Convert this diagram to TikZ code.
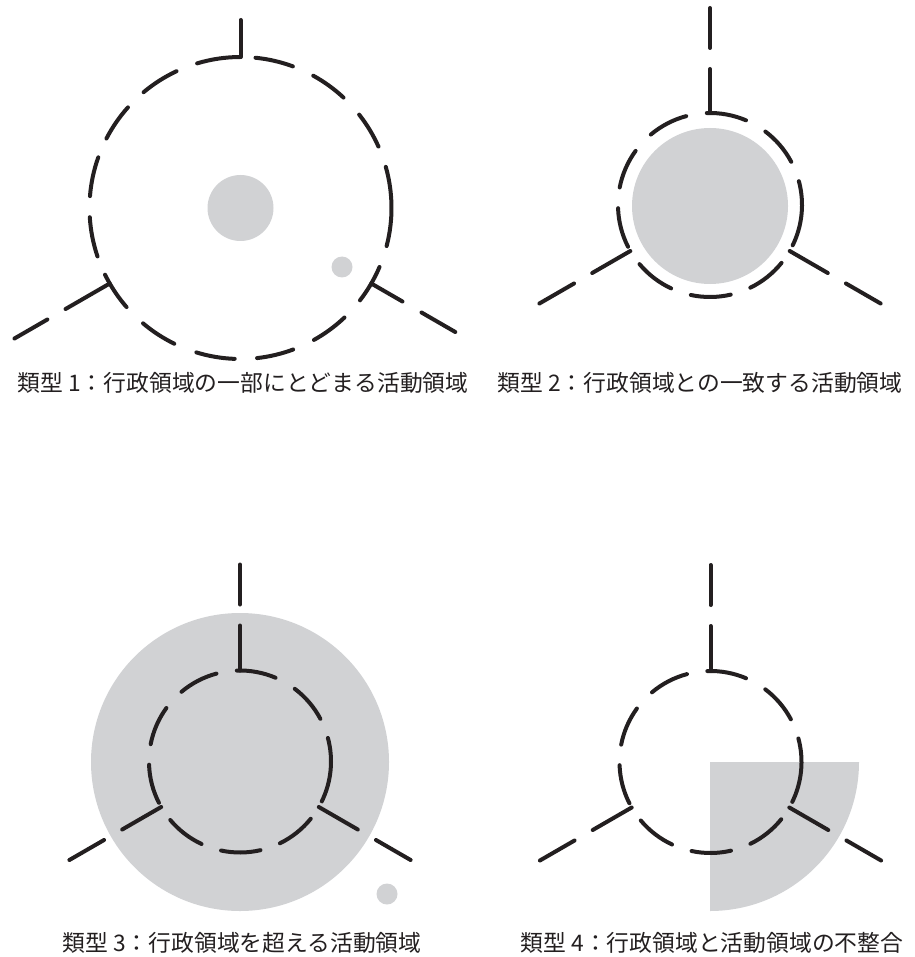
\documentclass[tikz,border=0pt]{standalone}
\usepackage{fontspec}
\newfontfamily\jp{Noto Sans CJK JP}
\definecolor{regiongray}{HTML}{D1D2D4}
\definecolor{ink}{HTML}{231F20}
\newcommand\smallring[1]{%
  \foreach \a/\b in {92/67,53/28,15/-26,-39/-64,-77/-102,-115/-140,-153/-178,169/144,130/105}
    \draw[bnd] (\a:#1) arc[start angle=\a, end angle=\b, radius=#1];
  \foreach \t in {90,210,330}{
    \draw[bnd] (\t:#1) -- (\t:136);
    \draw[bnd] (\t:157) -- (\t:197);
  }}
\begin{document}
\begin{tikzpicture}[x=1pt,y=-1pt,
  bnd/.style={draw=ink,line width=4pt,line cap=round,line join=round},
  area/.style={fill=regiongray},
  lbl/.style={font=\jp\fontsize{22.8}{26}\selectfont,text=ink,inner sep=0pt}]
\useasboundingbox (0,0) rectangle (914,957);
% centres
\coordinate (c1) at (240.5,208);
\coordinate (c2) at (710,205);
\coordinate (c3) at (240,761.5);
\coordinate (c4) at (710.5,762);
% ---------- panel 1 ----------
\fill[area] (c1) circle[radius=33];
\fill[area] (342,267) circle[radius=10.5];
\begin{scope}[shift={(c1)},yscale=-1]
  \foreach \a/\b in {84.3/69.7,61.2/47,38.2/24,15.8/-14.6,-23/-37.7,-46.5/-60.9,-69.6/-83.7,-92.2/-107,-116/-130.2,-139/-153.8,-161.3/-176.5,175.5/160.4,152.6/138.2,129.9/115.1,106.7/90}
    \draw[bnd] (\a:151) arc[start angle=\a, end angle=\b, radius=151];
  \draw[bnd] (90:151) -- (90:188);
  \draw[bnd] (210:151) -- (210:202);
  \draw[bnd] (210:223) -- (210:261);
  \draw[bnd] (330:151) -- (330:187);
  \draw[bnd] (330:209) -- (330:248);
\end{scope}
% ---------- panel 2 ----------
\fill[area] (710,206) circle[radius=78];
\begin{scope}[shift={(c2)},yscale=-1]
  \smallring{92}
\end{scope}
% ---------- panel 3 ----------
\fill[area] (240,762) circle[radius=149];
\fill[area] (387,894) circle[radius=10.5];
\begin{scope}[shift={(c3)},yscale=-1]
  \smallring{91}
\end{scope}
% ---------- panel 4 ----------
\fill[area] (710,762) -- (859,762) arc[start angle=0,end angle=90,radius=149] -- cycle;
\begin{scope}[shift={(c4)},yscale=-1]
  \smallring{91}
\end{scope}
% ---------- labels ----------
\node[lbl] (t1) at (243,383) {類型 1：行政領域の一部にとどまる活動領域};
\node[lbl] (t2) at (700,383) {類型 2：行政領域との一致する活動領域};
\node[lbl] (t3) at (242,943) {類型 3：行政領域を超える活動領域};
\node[lbl] (t4) at (712,943) {類型 4：行政領域と活動領域の不整合};
\end{tikzpicture}
\end{document}
